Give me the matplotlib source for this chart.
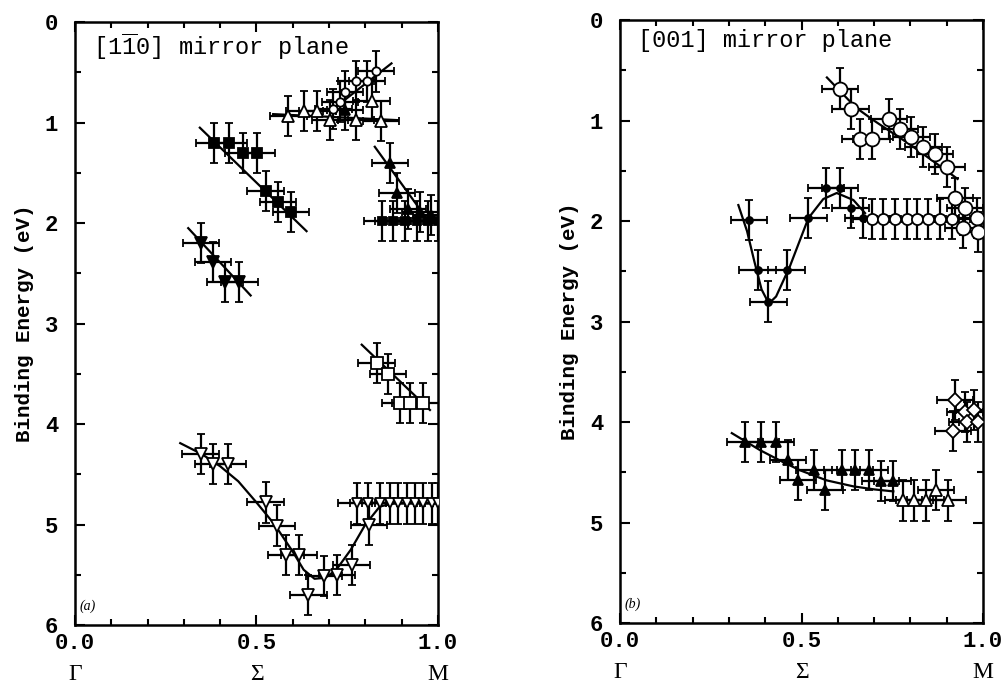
import numpy as np
import matplotlib
matplotlib.use('Agg')
import matplotlib.pyplot as plt
from matplotlib.ticker import MultipleLocator
from matplotlib.transforms import blended_transform_factory

plt.rcParams['font.family'] = ['Liberation Mono', 'DejaVu Sans Mono']
plt.rcParams['mathtext.fontset'] = 'custom'
plt.rcParams['mathtext.rm'] = 'Liberation Mono'
plt.rcParams['mathtext.it'] = 'Liberation Serif:italic'

# ---------------- panel (a): [1-10] mirror plane ----------------
a_sq_x = [0.384, 0.425, 0.462, 0.502, 0.525, 0.560, 0.595]
a_sq_y = [1.20, 1.20, 1.30, 1.30, 1.68, 1.79, 1.89]
a_sq_line_x = [0.344, 0.638]
a_sq_line_y = [1.05, 2.08]

a_dtri_x = [0.347, 0.381, 0.413, 0.453]
a_dtri_y = [2.20, 2.39, 2.59, 2.59]
a_dtri_line_x = [0.312, 0.484]
a_dtri_line_y = [2.05, 2.72]

a_otri_x = [0.588, 0.632, 0.668, 0.702, 0.774, 0.817, 0.843]
a_otri_y = [0.935, 0.88, 0.88, 0.975, 0.975, 0.78, 0.985]
a_otri_line_x = [0.546, 0.89]
a_otri_line_y = [0.915, 0.975]

a_ocir_x = [0.712, 0.730, 0.744, 0.774, 0.804, 0.829]
a_ocir_y = [0.86, 0.79, 0.69, 0.59, 0.59, 0.49]
a_ocir_line_x = [0.702, 0.872]
a_ocir_line_y = [0.89, 0.41]

a_ftri_x = [0.744, 0.868, 0.888, 0.918, 0.950, 0.980]
a_ftri_y = [0.87, 1.40, 1.70, 1.86, 1.89, 1.92]
a_ftri_line_x = [0.826, 0.982]
a_ftri_line_y = [1.24, 2.02]

a_sq2_x = [0.845, 0.877, 0.909, 0.941, 0.973, 1.0]
a_sq2_y = [1.98, 1.98, 1.98, 1.98, 1.98, 1.98]

a_osq_x = [0.831, 0.863, 0.895, 0.923, 0.960]
a_osq_y = [3.39, 3.50, 3.79, 3.79, 3.79]
a_osq_line_x = [0.790, 0.978]
a_osq_line_y = [3.21, 3.86]

a_odt_x = [0.346, 0.381, 0.422, 0.525, 0.556, 0.581, 0.618, 0.643, 0.686,
           0.721, 0.762, 0.811]
a_odt_y = [4.30, 4.40, 4.40, 4.78, 5.01, 5.30, 5.30, 5.70, 5.51, 5.50,
           5.40, 5.00]
a_odt2_x = [0.776, 0.808, 0.840, 0.868, 0.891, 0.914, 0.937, 0.960, 0.983, 1.0]
a_odt2_y = [4.79] * 10
a_curve_x = [0.29, 0.35, 0.40, 0.45, 0.50, 0.55, 0.60, 0.63, 0.66, 0.69,
             0.72, 0.76, 0.80, 0.84, 0.88, 1.0]
a_curve_y = [4.19, 4.30, 4.42, 4.57, 4.78, 5.00, 5.27, 5.45, 5.54, 5.53,
             5.45, 5.25, 5.00, 4.82, 4.79, 4.79]

# ---------------- panel (b): [001] mirror plane ----------------
b_ocir_x = [0.606, 0.635, 0.661, 0.693, 0.741, 0.771, 0.803, 0.836, 0.868,
            0.900, 0.923, 0.950, 0.983, 0.945, 0.986]
b_ocir_y = [0.68, 0.88, 1.18, 1.18, 0.98, 1.08, 1.16, 1.26, 1.33, 1.46,
            1.77, 1.87, 1.97, 2.07, 2.11]
b_ocir_curve_x = [0.57, 0.61, 0.65, 0.70, 0.75, 0.80, 0.85, 0.90, 0.93]
b_ocir_curve_y = [0.57, 0.72, 0.87, 1.00, 1.12, 1.24, 1.37, 1.50, 1.58]

b_ocir2_x = [0.693, 0.725, 0.758, 0.790, 0.819, 0.849, 0.882, 0.914]
b_ocir2_y = [1.98] * 8

b_fcir_x = [0.356, 0.379, 0.409, 0.459, 0.519, 0.567, 0.606, 0.635, 0.669]
b_fcir_y = [1.99, 2.49, 2.80, 2.49, 1.97, 1.67, 1.67, 1.87, 1.97]
b_fcir_curve_x = [0.326, 0.35, 0.37, 0.39, 0.41, 0.43, 0.468, 0.519, 0.56,
                  0.597, 0.643, 0.675]
b_fcir_curve_y = [1.84, 2.10, 2.40, 2.68, 2.82, 2.75, 2.45, 1.97, 1.78,
                  1.72, 1.79, 1.92]

b_ftri_x = [0.344, 0.388, 0.430, 0.462, 0.491, 0.534, 0.565, 0.611, 0.647,
            0.687, 0.718, 0.751]
b_ftri_y = [4.20, 4.20, 4.20, 4.38, 4.58, 4.48, 4.68, 4.48, 4.48, 4.48,
            4.59, 4.59]
b_otri_x = [0.781, 0.811, 0.842, 0.871, 0.904]
b_otri_y = [4.78, 4.78, 4.78, 4.68, 4.78]
b_tri_curve_x = [0.308, 0.386, 0.45, 0.496, 0.569, 0.643, 0.70, 0.753]
b_tri_curve_y = [4.11, 4.28, 4.40, 4.48, 4.58, 4.64, 4.67, 4.69]

b_dia_x = [0.923, 0.918, 0.950, 0.975, 0.955, 0.985]
b_dia_y = [3.78, 4.09, 3.90, 3.88, 4.00, 4.00]

x_ticks = [0.0, 0.5, 1.0]
x_tick_labels = ['0.0', '0.5', '1.0']
x_points = ['\u0393', '\u03a3', 'M']

xerr = 0.05
yerr = 0.2


def pts(ax, x, y, marker, filled, ms=8):
    ax.errorbar(x, y, xerr=xerr, yerr=yerr, fmt=marker, ms=ms,
                mfc='black' if filled else 'white', mec='black', mew=1.3,
                ecolor='black', elinewidth=1.6, capsize=3, capthick=1.6,
                color='black', zorder=3, clip_on=True)


def setup(ax, title, tag):
    ax.set_xlim(0, 1)
    ax.set_ylim(6, 0)
    ax.set_xticks(x_ticks)
    ax.set_xticklabels(x_tick_labels)
    ax.xaxis.set_minor_locator(MultipleLocator(0.1))
    ax.yaxis.set_major_locator(MultipleLocator(1))
    ax.yaxis.set_minor_locator(MultipleLocator(0.5))
    ax.tick_params(which='both', direction='in', top=True, right=True,
                   labelsize=16, width=1.5)
    ax.tick_params(which='major', length=7)
    ax.tick_params(which='minor', length=4)
    ax.tick_params(axis='y', pad=12)
    ax.tick_params(axis='x', pad=6)
    for lab in ax.get_xticklabels() + ax.get_yticklabels():
        lab.set_fontweight('bold')
    for s in ax.spines.values():
        s.set_linewidth(1.8)
    # symmetry point names under the numeric tick labels
    tr = blended_transform_factory(ax.transData, ax.transAxes)
    for xv, nm in zip(x_ticks, x_points):
        ax.text(xv, -0.065, nm, transform=tr, ha='center', va='top',
                fontsize=17, family='Liberation Serif')
    ax.set_ylabel('Binding Energy (eV)', fontsize=15, fontweight='bold',
                  labelpad=8)
    ax.text(0.05, 0.985, title, transform=ax.transAxes, fontsize=17,
            va='top', ha='left')
    ax.text(0.012, 0.02, tag, transform=ax.transAxes, fontsize=10,
            family='Liberation Serif', style='italic', va='bottom')


fig = plt.figure(figsize=(10.01, 6.85), dpi=100)
axa = fig.add_axes([0.0749, 0.0876, 0.3626, 0.880])
axb = fig.add_axes([0.6194, 0.0905, 0.3626, 0.880])

lk = dict(color='black', lw=1.6, zorder=2)

# panel (a)
axa.plot(a_sq_line_x, a_sq_line_y, **lk)
axa.plot(a_dtri_line_x, a_dtri_line_y, **lk)
axa.plot(a_otri_line_x, a_otri_line_y, **lk)
axa.plot(a_ocir_line_x, a_ocir_line_y, **lk)
axa.plot(a_ftri_line_x, a_ftri_line_y, **lk)
axa.plot(a_osq_line_x, a_osq_line_y, **lk)
axa.plot(a_curve_x, a_curve_y, **lk)
pts(axa, a_sq_x, a_sq_y, 's', True, 7)
pts(axa, a_dtri_x, a_dtri_y, 'v', True, 8)
pts(axa, a_otri_x, a_otri_y, '^', False, 8)
pts(axa, a_ocir_x, a_ocir_y, 'o', False, 6)
pts(axa, a_ftri_x, a_ftri_y, '^', True, 7)
pts(axa, a_sq2_x, a_sq2_y, 's', True, 6)
pts(axa, a_osq_x, a_osq_y, 's', False, 8)
pts(axa, a_odt_x, a_odt_y, 'v', False, 9)
pts(axa, a_odt2_x, a_odt2_y, 'v', False, 7)
setup(axa, '[1$\\overline{\\mathrm{1}}$0] mirror plane', '(a)')

# panel (b)
axb.plot(b_ocir_curve_x, b_ocir_curve_y, **lk)
axb.plot(b_fcir_curve_x, b_fcir_curve_y, **lk)
axb.plot(b_tri_curve_x, b_tri_curve_y, **lk)
pts(axb, b_ocir_x, b_ocir_y, 'o', False, 10)
pts(axb, b_ocir2_x, b_ocir2_y, 'o', False, 8)
pts(axb, b_fcir_x, b_fcir_y, 'o', True, 5)
pts(axb, b_ftri_x, b_ftri_y, '^', True, 7)
pts(axb, b_otri_x, b_otri_y, '^', False, 8)
pts(axb, b_dia_x, b_dia_y, 'D', False, 7)
setup(axb, '[001] mirror plane', '(b)')

fig.savefig('out.png', dpi=100)
